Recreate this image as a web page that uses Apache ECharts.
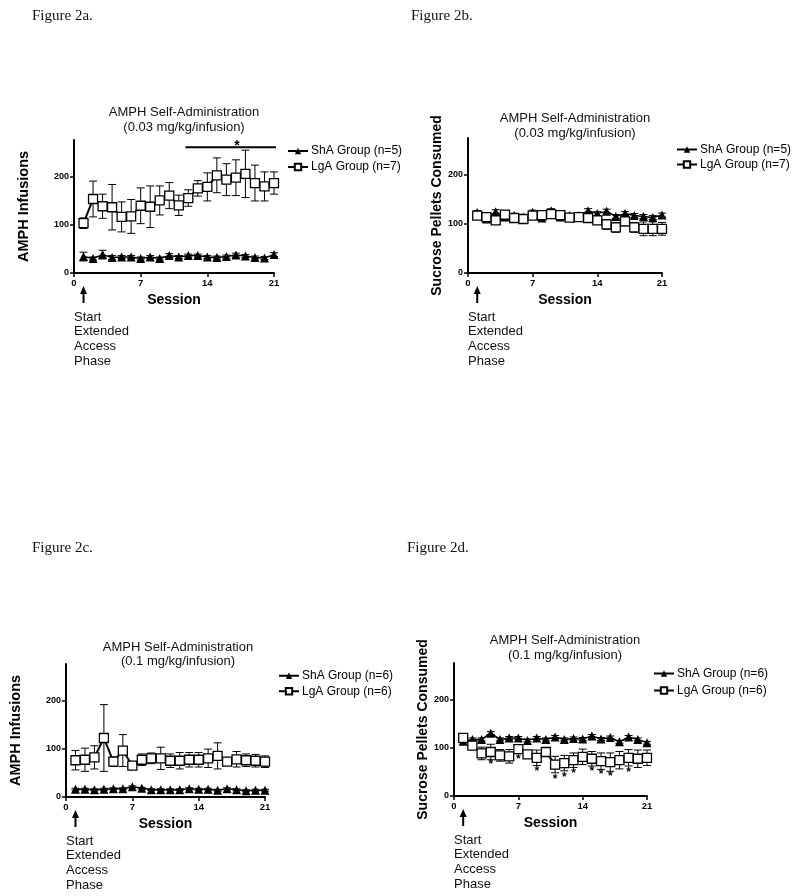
<!DOCTYPE html>
<html>
<head>
<meta charset="utf-8">
<script src="https://cdn.jsdelivr.net/npm/echarts@6/dist/echarts.min.js"></script>
<style>
html,body{margin:0;padding:0;background:#fff;}
#chart{width:800px;height:896px;}
</style>
</head>
<body>
<div id="chart"></div>
<script>
// ---------- data ----------
var sessions = [1,2,3,4,5,6,7,8,9,10,11,12,13,14,15,16,17,18,19,20,21];
var xTicks = [0, 7, 14, 21];
var yTicks = [0, 100, 200];

// Figure 2a: AMPH infusions, 0.03 mg/kg/infusion
var aShA    = [34,30,38,32,33,33,30,33,30,36,33,36,36,33,32,34,37,35,32,31,38];
var aShAErr = [9,3,9,4,3,3,3,3,3,4,3,3,3,3,3,3,4,3,3,3,4];
var aLgA    = [103,153,138,136,116,117,139,137,150,160,140,155,175,178,202,193,197,205,186,179,186];
var aLgAErr = [11,37,25,47,31,35,37,43,30,27,21,17,16,29,36,33,37,49,37,30,23];
var aSigBar = [11.7, 21.2, 260];   // from session, to session, level
var aSigStar = [17.1, 268];

// Figure 2b: sucrose pellets, 0.03 mg/kg/infusion
var bShA    = [123,110,125,114,117,114,124,112,127,114,117,117,127,121,126,115,121,117,115,113,118];
var bShAErr = [4,4,4,4,3,3,4,4,4,3,3,3,4,4,4,4,4,4,4,4,4];
var bLgA    = [117,114,107,119,112,110,117,118,120,118,113,114,112,107,99,93,105,93,90,90,90];
var bLgAErr = [5,5,6,4,5,5,5,5,4,4,4,4,5,7,10,10,9,10,14,14,13];

// Figure 2c: AMPH infusions, 0.1 mg/kg/infusion
var cShA    = [16,16,15,16,17,17,21,18,15,15,15,15,17,16,16,14,17,15,13,14,14];
var cShAErr = [2,2,2,2,2,2,2,2,2,2,2,2,2,2,2,2,2,2,2,2,2];
var cLgA    = [76,77,82,122,73,96,65,77,80,80,75,75,77,77,80,85,73,78,76,75,73];
var cLgAErr = [20,24,24,69,10,33,6,12,11,23,14,17,15,15,19,27,7,16,13,13,12];

// Figure 2d: sucrose pellets, 0.1 mg/kg/infusion
var dShA    = [113,117,117,130,117,120,120,115,120,117,122,117,119,118,124,118,121,112,122,117,110];
var dShAErr = [3,3,3,3,3,3,3,3,3,3,3,3,3,3,3,3,3,3,3,3,3];
var dLgA    = [120,104,88,91,84,82,97,86,79,91,65,68,74,81,77,72,70,74,79,77,79];
var dLgAErr = [3,4,13,16,12,14,5,7,16,7,17,16,15,16,15,17,19,18,17,18,16];
var dStarSessions = [4,7,9,11,12,13,15,16,17,19];
var dStarValues   = [70,81,55,39,44,51,55,49,45,53];

var figLabels = ['Figure 2a.', 'Figure 2b.', 'Figure 2c.', 'Figure 2d.'];
var titleLine1 = 'AMPH Self-Administration';
var titleDoses = ['(0.03 mg/kg/infusion)', '(0.03 mg/kg/infusion)', '(0.1 mg/kg/infusion)', '(0.1 mg/kg/infusion)'];
var yNames = ['AMPH Infusions', 'Sucrose Pellets Consumed', 'AMPH Infusions', 'Sucrose Pellets Consumed'];
var xName = 'Session';
var shaNames = ['ShA Group (n=5)', 'ShA Group (n=5)', 'ShA Group (n=6)', 'ShA Group (n=6)'];
var lgaNames = ['LgA Group (n=7)', 'LgA Group (n=7)', 'LgA Group (n=6)', 'LgA Group (n=6)'];
var noteLines = ['Start', 'Extended', 'Access', 'Phase'];
var startSession = 1;

// ---------- layout ----------
var SANS = '"Liberation Sans", Arial, Helvetica, sans-serif';
var SERIF = '"Liberation Serif", "Times New Roman", serif';
var grids = [
  {left: 74,  top: 140, width: 200, height: 133},
  {left: 468, top: 138, width: 194, height: 135},
  {left: 66,  top: 664, width: 199, height: 133},
  {left: 454, top: 663, width: 193, height: 133}
];
var yNameGaps = [43, 15, 43, 20];
var titlePos = [{x: 184, y: 105, lh: 15}, {x: 575, y: 111, lh: 15}, {x: 178, y: 640, lh: 14}, {x: 565, y: 633, lh: 15}];
var legendPos = [{x: 287, y: 143, lh: 16}, {x: 676, y: 142, lh: 15}, {x: 278, y: 668, lh: 15.5}, {x: 653, y: 665, lh: 17}];
var figPos = [{x: 32, y: 9}, {x: 411, y: 9}, {x: 32, y: 541}, {x: 407, y: 541}];

function pairs(xs, ys, es) {
  return xs.map(function (x, i) { return es ? [x, ys[i], es[i]] : [x, ys[i]]; });
}

function errRender(params, api) {
  var x = api.value(0), m = api.value(1), e = api.value(2);
  var hi = api.coord([x, m + e]);
  var lo = api.coord([x, m - e]);
  var h = 4;
  var st = {stroke: '#000', lineWidth: 1};
  return {type: 'group', children: [
    {type: 'line', shape: {x1: hi[0], y1: hi[1], x2: lo[0], y2: lo[1]}, style: st},
    {type: 'line', shape: {x1: hi[0] - h, y1: hi[1], x2: hi[0] + h, y2: hi[1]}, style: st},
    {type: 'line', shape: {x1: lo[0] - h, y1: lo[1], x2: lo[0] + h, y2: lo[1]}, style: st}
  ]};
}

function starRender(size) {
  return function (params, api) {
    var p = api.coord([api.value(0), api.value(1)]);
    return {type: 'text', x: p[0], y: p[1] + size * 0.22,
      style: {text: '*', font: 'bold ' + size + 'px ' + SANS, fill: '#000', align: 'center', verticalAlign: 'middle'}};
  };
}

function sigBarRender(params, api) {
  var a = api.coord([api.value(0), api.value(2)]);
  var b = api.coord([api.value(1), api.value(2)]);
  return {type: 'line', shape: {x1: a[0], y1: a[1], x2: b[0], y2: b[1]}, style: {stroke: '#000', lineWidth: 2}};
}

var panels = [
  {sha: aShA, shaErr: aShAErr, lga: aLgA, lgaErr: aLgAErr},
  {sha: bShA, shaErr: bShAErr, lga: bLgA, lgaErr: bLgAErr},
  {sha: cShA, shaErr: cShAErr, lga: cLgA, lgaErr: cLgAErr},
  {sha: dShA, shaErr: dShAErr, lga: dLgA, lgaErr: dLgAErr}
];

var option = {
  animation: false,
  backgroundColor: '#fff',
  textStyle: {fontFamily: SANS},
  grid: grids.map(function (g) { return Object.assign({containLabel: false}, g); }),
  xAxis: [], yAxis: [], series: [], legend: [], title: []
};

panels.forEach(function (p, k) {
  option.xAxis.push({
    type: 'value', gridIndex: k, min: 0, max: 21, interval: 7,
    name: xName, nameLocation: 'middle', nameGap: 20,
    nameTextStyle: {fontFamily: SANS, fontWeight: 'bold', fontSize: 14, color: '#000'},
    axisLine: {show: true, onZero: false, lineStyle: {color: '#000', width: 2}},
    axisTick: {show: true, length: 4, inside: false, lineStyle: {color: '#000', width: 1.5}},
    axisLabel: {margin: 5, fontFamily: SANS, fontWeight: 'bold', fontSize: 9.5, color: '#000',
      customValues: xTicks},
    splitLine: {show: false}
  });
  option.yAxis.push({
    type: 'value', gridIndex: k, min: 0, max: 275, interval: 100,
    name: yNames[k], nameLocation: 'middle', nameGap: yNameGaps[k], nameRotate: 90,
    nameTextStyle: {fontFamily: SANS, fontWeight: 'bold', fontSize: k % 2 ? 14 : 14.5, color: '#000'},
    axisLine: {show: true, onZero: false, lineStyle: {color: '#000', width: 2}},
    axisTick: {show: true, length: 4, inside: false, customValues: yTicks, lineStyle: {color: '#000', width: 1.5}},
    axisLabel: {margin: 5, fontFamily: SANS, fontWeight: 'bold', fontSize: 9, color: '#000', customValues: yTicks},
    splitLine: {show: false}
  });
  option.series.push({
    type: 'custom', xAxisIndex: k, yAxisIndex: k, renderItem: errRender, z: 1, silent: true,
    data: pairs(sessions, p.sha, p.shaErr)
  });
  option.series.push({
    type: 'custom', xAxisIndex: k, yAxisIndex: k, renderItem: errRender, z: 1, silent: true,
    data: pairs(sessions, p.lga, p.lgaErr)
  });
  option.series.push({
    name: shaNames[k], type: 'line', xAxisIndex: k, yAxisIndex: k, z: 3,
    data: pairs(sessions, p.sha), symbol: 'triangle', symbolSize: 9,
    lineStyle: {color: '#000', width: 1.5}, itemStyle: {color: '#000'}
  });
  option.series.push({
    name: lgaNames[k], type: 'line', xAxisIndex: k, yAxisIndex: k, z: 4,
    data: pairs(sessions, p.lga), symbol: 'rect', symbolSize: 9,
    lineStyle: {color: '#000', width: 2}, itemStyle: {color: '#fff', borderColor: '#000', borderWidth: 1.3}
  });
  option.legend.push({
    orient: 'vertical', left: legendPos[k].x, top: legendPos[k].y, itemGap: 0, padding: 0,
    itemWidth: 20, itemHeight: 8, selectedMode: false,
    textStyle: {fontFamily: SANS, fontSize: 12, color: '#000', lineHeight: legendPos[k].lh, padding: [0, 0, 0, -2]},
    data: [shaNames[k], lgaNames[k]]
  });
  option.title.push({
    text: titleLine1 + '\n' + titleDoses[k], left: titlePos[k].x, top: titlePos[k].y, textAlign: 'center', padding: 0,
    textStyle: {fontFamily: SANS, fontSize: 13, fontWeight: 'normal', color: '#111', lineHeight: titlePos[k].lh}
  });
  option.title.push({
    text: figLabels[k], left: figPos[k].x, top: figPos[k].y, padding: 0,
    textStyle: {fontFamily: SERIF, fontSize: 15, fontWeight: 'normal', color: '#111'}
  });
});

// significance bar and star, panel a
option.series.push({type: 'custom', xAxisIndex: 0, yAxisIndex: 0, renderItem: sigBarRender, silent: true, data: [aSigBar]});
option.series.push({type: 'custom', xAxisIndex: 0, yAxisIndex: 0, renderItem: starRender(14), silent: true, data: [aSigStar]});
// stars, panel d
option.series.push({type: 'custom', xAxisIndex: 3, yAxisIndex: 3, renderItem: starRender(12), silent: true, z: 5,
  data: pairs(dStarSessions, dStarValues)});

var chart = echarts.init(document.getElementById('chart'), null, {renderer: 'canvas'});
chart.setOption(option);

// arrows + "Start Extended Access Phase" annotations, positioned from the axes
var gfx = [];
[0, 1, 2, 3].forEach(function (k) {
  var start = chart.convertToPixel({xAxisIndex: k, yAxisIndex: k}, [startSession, 0]);
  var origin = chart.convertToPixel({xAxisIndex: k, yAxisIndex: k}, [0, 0]);
  var ax = start[0], ay = start[1];
  gfx.push({type: 'line', shape: {x1: ax, y1: ay + 18, x2: ax, y2: ay + 30}, style: {stroke: '#000', lineWidth: 2}});
  gfx.push({type: 'polygon', shape: {points: [[ax, ay + 13], [ax - 3.5, ay + 21], [ax + 3.5, ay + 21]]}, style: {fill: '#000'}});
  noteLines.forEach(function (t, i) {
    gfx.push({type: 'text', x: origin[0], y: ay + 44 + i * 14.7,
      style: {text: t, font: '13px ' + SANS, fill: '#111', align: 'left', verticalAlign: 'middle'}});
  });
});
chart.setOption({graphic: gfx});
</script>
</body>
</html>
